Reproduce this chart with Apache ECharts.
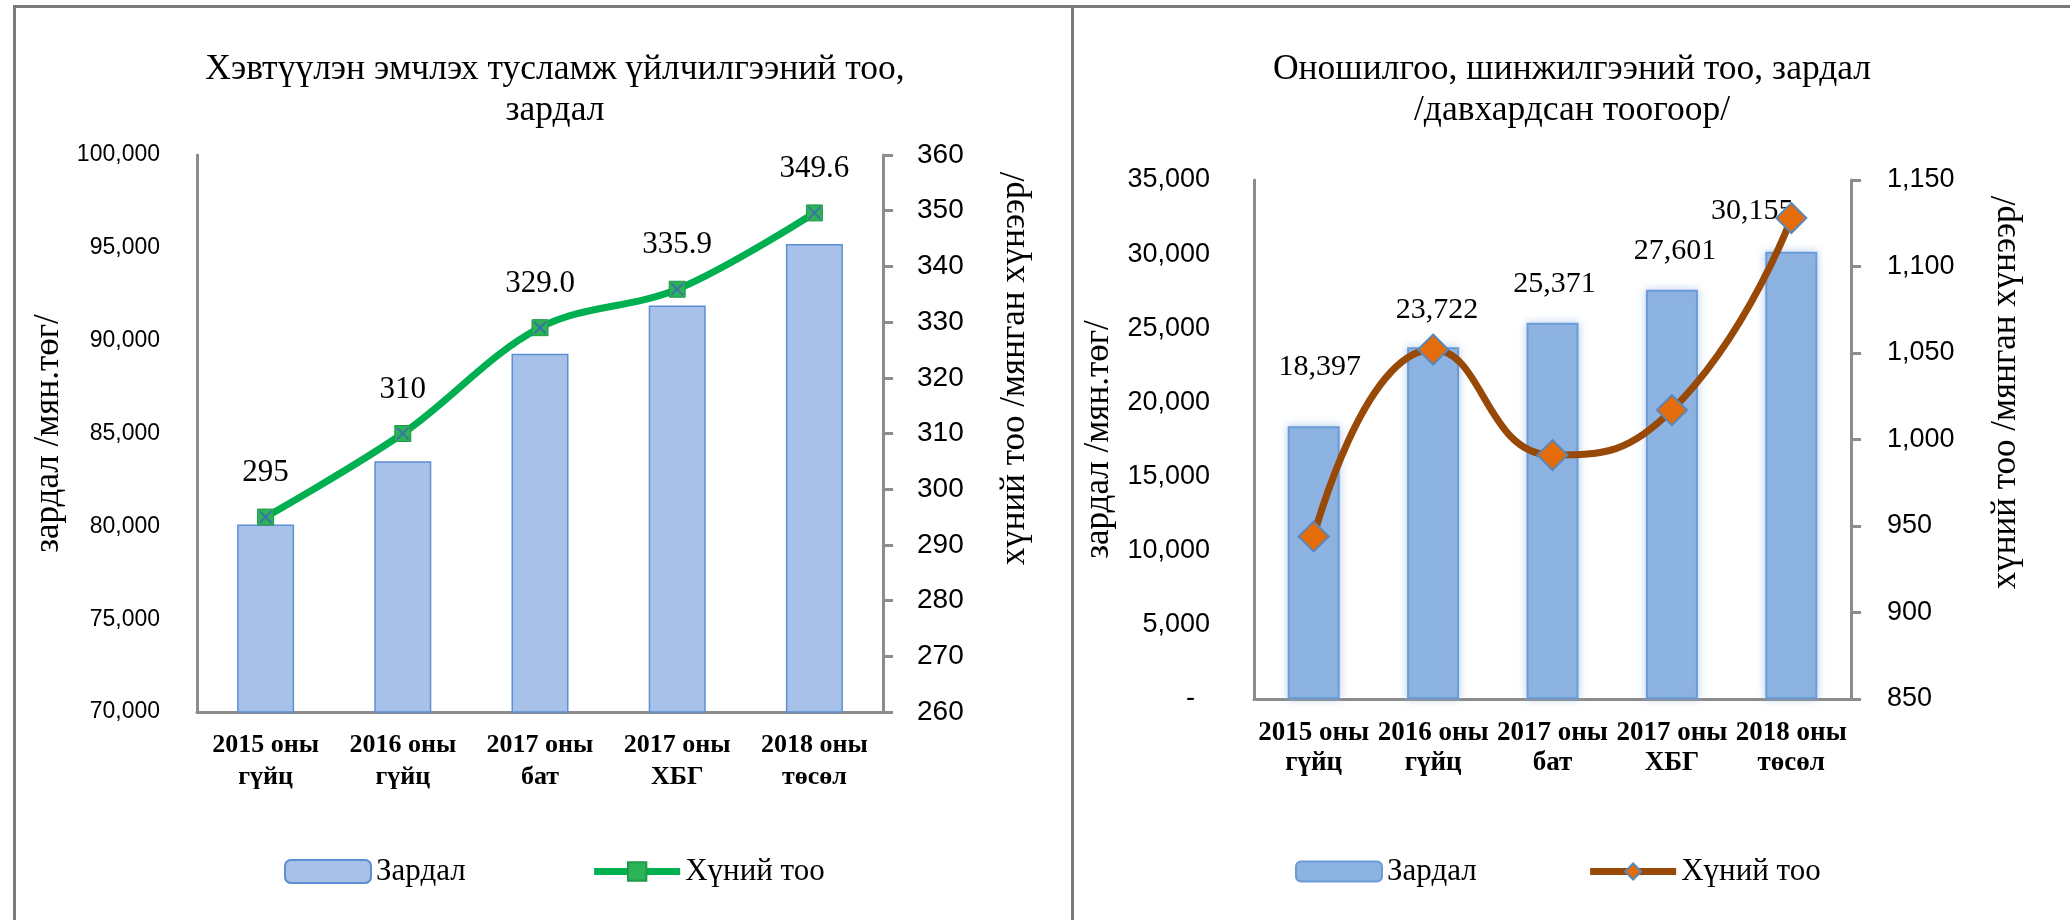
<!DOCTYPE html>
<html>
<head>
<meta charset="utf-8">
<script src="https://cdn.jsdelivr.net/npm/echarts@6/dist/echarts.min.js"></script>
<style>
html,body{margin:0;padding:0;background:#fff;}
#wrap{position:relative;width:2070px;height:920px;overflow:hidden;}
#chartL{position:absolute;left:0;top:0;width:1073px;height:920px;}
#chartR{position:absolute;left:1073px;top:0;width:997px;height:920px;}
.frame{position:absolute;background:#7a7a7a;}
</style>
</head>
<body>
<div id="wrap">
  <div id="chartL"></div>
  <div id="chartR"></div>
  <div class="frame" style="left:13px;top:5px;width:2057px;height:3px"></div>
  <div class="frame" style="left:13px;top:5px;width:3px;height:915px"></div>
  <div class="frame" style="left:1071px;top:5px;width:3px;height:915px"></div>
</div>
<script>
// ангилал
var categories = ['2015 оны\nгүйц', '2016 оны\nгүйц', '2017 оны\nбат', '2017 оны\nХБГ', '2018 оны\nтөсөл'];

// Хэвтүүлэн эмчлэх: зардал (мян.төг), хүний тоо (мянган хүнээр)
var costL = [80100, 83500, 89300, 91900, 95200];
var peopleL = [295, 310, 329.0, 335.9, 349.6];
var peopleLText = ['295', '310', '329.0', '335.9', '349.6'];

// Оношилгоо, шинжилгээ: зардал, хүний тоо
var costR = [18397, 23722, 25371, 27601, 30155];
var peopleR = [944, 1052, 991, 1017, 1128];

// шошгын шилжилт [dx, dy]
var costRShift = [[6, -22], [4, 0], [2, -2], [3, -2], [-39, -4]];

var serif = "'Liberation Serif','Times New Roman',serif";
var sans = "'Liberation Sans',Arial,sans-serif";
var axisGray = '#8c8c8c';

function fmt(v) {
    return String(v).replace(/\B(?=(\d{3})+(?!\d))/g, ',');
}

//зүүн график
var chartL = echarts.init(document.getElementById('chartL'));
chartL.setOption({
    animation: false,
    title: {
        text: 'Хэвтүүлэн эмчлэх тусламж үйлчилгээний тоо,\nзардал',
        left: 550, top: 44, textAlign: 'center',
        textStyle: {fontFamily: serif, fontSize: 35.5, fontWeight: 'normal', color: '#000', lineHeight: 41}
    },
    legend: {
        left: 279, top: 851, itemWidth: 86, itemHeight: 23, itemGap: 125,
        textStyle: {fontFamily: serif, fontSize: 31, color: '#000'},
        lineStyle: {width: 7},
        data: ['Зардал', 'Хүний тоо']
    },
    grid: {left: 197, top: 155, width: 686, height: 557},
    xAxis: {
        type: 'category', data: categories,
        axisLine: {lineStyle: {color: axisGray, width: 3}},
        axisTick: {show: false},
        axisLabel: {interval: 0, margin: 17, fontFamily: serif, fontSize: 26, fontWeight: 'bold', lineHeight: 32, color: '#000'}
    },
    yAxis: [{
        type: 'value', min: 70000, max: 100000, interval: 5000,
        name: 'зардал /мян.төг/', nameLocation: 'middle', nameGap: 111, nameRotate: 90,
        nameTextStyle: {fontFamily: serif, fontSize: 35, color: '#000'},
        axisLine: {show: true, lineStyle: {color: axisGray, width: 3}},
        axisTick: {show: false},
        splitLine: {show: false},
        axisLabel: {margin: 37, fontFamily: sans, fontSize: 23, color: '#000', formatter: fmt}
    }, {
        type: 'value', min: 260, max: 360, interval: 10, position: 'right',
        name: 'хүний тоо /мянган хүнээр/', nameLocation: 'middle', nameGap: 114, nameRotate: 90,
        nameTextStyle: {fontFamily: serif, fontSize: 35, color: '#000', padding: [0, 0, 0, 130]},
        axisLine: {show: true, lineStyle: {color: axisGray, width: 3}},
        axisTick: {show: true, length: 10, lineStyle: {color: axisGray, width: 3}},
        splitLine: {show: false},
        axisLabel: {margin: 34, fontFamily: sans, fontSize: 28, color: '#000'}
    }],
    series: [{
        name: 'Зардал', type: 'bar', data: costL, barWidth: 57,
        itemStyle: {color: '#a7c1e8', borderColor: '#5d8fd4', borderWidth: 1.5}
    }, {
        name: 'Хүний тоо', type: 'line', yAxisIndex: 1, data: peopleL, smooth: 0.35,
        symbol: 'rect', symbolSize: 16,
        lineStyle: {color: '#00b050', width: 7},
        itemStyle: {color: '#2cb257', borderColor: '#1f9a48', borderWidth: 1},
        label: {
            show: true, position: 'top', distance: 20,
            fontFamily: serif, fontSize: 31, color: '#000',
            formatter: function (p) { return peopleLText[p.dataIndex]; }
        },
        z: 3
    }, {
        // маркерын X тэмдэг
        name: 'x', type: 'line', yAxisIndex: 1, data: peopleL, silent: true,
        symbol: 'path://M0,2L2,0L10,8L18,0L20,2L12,10L20,18L18,20L10,12L2,20L0,18L8,10Z',
        symbolSize: 13, lineStyle: {opacity: 0}, itemStyle: {color: '#3d6fae'}, z: 4
    }]
});

//баруун график
var chartR = echarts.init(document.getElementById('chartR'));
chartR.setOption({
    animation: false,
    title: {
        text: 'Оношилгоо, шинжилгээний тоо, зардал\n/давхардсан тоогоор/',
        left: 494, top: 44, textAlign: 'center',
        textStyle: {fontFamily: serif, fontSize: 35.5, fontWeight: 'normal', color: '#000', lineHeight: 41}
    },
    legend: {
        left: 217, top: 851, itemWidth: 86, itemHeight: 20, itemGap: 110,
        textStyle: {fontFamily: serif, fontSize: 31, color: '#000'},
        lineStyle: {width: 7},
        data: ['Зардал', 'Хүний тоо']
    },
    grid: {left: 181, top: 180, width: 597, height: 519},
    xAxis: {
        type: 'category', data: categories,
        axisLine: {lineStyle: {color: axisGray, width: 3}},
        axisTick: {show: false},
        axisLabel: {interval: 0, margin: 19, fontFamily: serif, fontSize: 27, fontWeight: 'bold', lineHeight: 30, color: '#000'}
    },
    yAxis: [{
        type: 'value', min: 0, max: 35000, interval: 5000,
        name: 'зардал /мян.төг/', nameLocation: 'middle', nameGap: 112, nameRotate: 90,
        nameTextStyle: {fontFamily: serif, fontSize: 35, color: '#000'},
        axisLine: {show: true, lineStyle: {color: axisGray, width: 3}},
        axisTick: {show: false},
        splitLine: {show: false},
        axisLabel: {
            margin: 44, fontFamily: sans, fontSize: 27, color: '#000',
            formatter: function (v) { return v === 0 ? '-  ' : fmt(v); }
        }
    }, {
        type: 'value', min: 850, max: 1150, interval: 50, position: 'right',
        name: 'хүний тоо /мянган хүнээр/', nameLocation: 'middle', nameGap: 137, nameRotate: 90,
        nameTextStyle: {fontFamily: serif, fontSize: 35, color: '#000', padding: [0, 0, 0, 94]},
        axisLine: {show: true, lineStyle: {color: axisGray, width: 3}},
        axisTick: {show: true, length: 10, lineStyle: {color: axisGray, width: 3}},
        splitLine: {show: false},
        axisLabel: {margin: 36, fontFamily: sans, fontSize: 27, color: '#000', formatter: fmt}
    }],
    series: [{
        name: 'Зардал', type: 'bar', barWidth: 52,
        data: costR.map(function (v, i) {
            return {value: v, label: {offset: costRShift[i]}};
        }),
        itemStyle: {
            color: '#8db3e2', borderColor: '#6b9bd6', borderWidth: 2,
            shadowBlur: 8, shadowColor: 'rgba(141,179,226,0.6)'
        },
        label: {
            show: true, position: 'top', distance: 22,
            fontFamily: serif, fontSize: 30, color: '#000',
            formatter: function (p) { return fmt(p.value); }
        }
    }, {
        name: 'Хүний тоо', type: 'line', yAxisIndex: 1, data: peopleR, smooth: 0.5,
        symbol: 'diamond', symbolSize: 30,
        lineStyle: {color: '#984807', width: 7},
        itemStyle: {color: '#e46c0a', borderColor: '#5a86b8', borderWidth: 2},
        z: 3
    }]
});
</script>
</body>
</html>
